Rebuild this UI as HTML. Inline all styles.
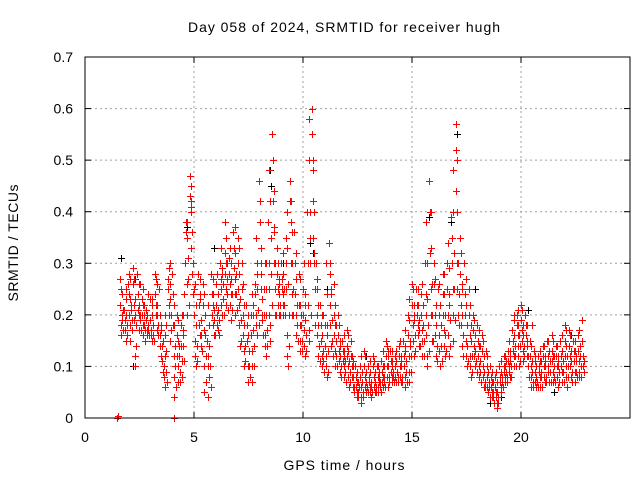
<!DOCTYPE html>
<html><head><meta charset="utf-8"><style>
html,body{margin:0;padding:0;background:#fff;}
svg{display:block;font-family:"Liberation Sans",sans-serif;font-size:14px;}
</style></head><body>
<svg id="chart" width="640" height="480" xmlns="http://www.w3.org/2000/svg">
<text x="344" y="32" text-anchor="middle" textLength="312" lengthAdjust="spacing">Day 058 of 2024, SRMTID for receiver hugh</text>
<text x="344" y="470" text-anchor="middle" textLength="121" lengthAdjust="spacing">GPS time / hours</text>
<text transform="translate(18,243) rotate(-90)" text-anchor="middle" textLength="117" lengthAdjust="spacing">SRMTID / TECUs</text>
<g id="grid"></g><g id="blackpts"></g><g id="redpts"></g><g id="axes"></g>
</svg>
<script>
const xTicks=[0,5,10,15,20];
const yTicks=[0,0.1,0.2,0.3,0.4,0.5,0.6,0.7];
const yTickLabels=["0","0.1","0.2","0.3","0.4","0.5","0.6","0.7"];
const redRows=[
[1.6,.27,.22,.18,.16,.2,.24],[1.8,.21,.19,.17,.23,.25,.15],[2.0,.24,.28,.2,.18,.15,.22],[2.2,.29,.26,.22,.19,.12,.1],
[2.4,.28,.24,.21,.17,.2,.26],[2.6,.23,.2,.18,.16,.25,.22],[2.8,.21,.19,.17,.16,.24],[3.0,.19,.17,.16,.15,.22,.18],
[3.2,.28,.24,.22,.2,.26,.17],[3.4,.25,.2,.16,.14,.12,.18],[3.6,.15,.1,.08,.06,.12,.18],[3.8,.27,.25,.22,.2,.3,.15],
[4.0,.28,.24,.18,.12,.08,.04],[4.2,.2,.16,.12,.1,.07,.14],[4.4,.18,.14,.11,.08,.16,.2],[4.6,.3,.36,.38,.26,.2],
[4.8,.47,.43,.4,.42,.33,.28],[5.0,.25,.2,.15,.12,.1,.18],[5.2,.28,.22,.18,.16,.24,.14],[5.4,.26,.22,.17,.1,.05,.2],
[5.6,.15,.12,.1,.04,.18,.08],[5.8,.28,.24,.2,.18,.22,.16],[6.0,.26,.22,.2,.18,.24,.17],[6.2,.3,.27,.25,.22,.2,.28],
[6.4,.38,.32,.28,.25,.22,.3],[6.6,.31,.28,.26,.22,.19,.24],[6.8,.36,.33,.29,.27,.24,.2],[7.0,.35,.3,.25,.22,.18,.14],
[7.2,.3,.25,.2,.16,.13,.1],[7.4,.22,.18,.15,.1,.07,.13],[7.6,.2,.16,.13,.1,.07,.22],[7.8,.26,.24,.2,.18,.16,.28],
[8.0,.46,.42,.38,.3,.25,.2],[8.2,.25,.2,.16,.14,.12,.3],[8.4,.38,.3,.25,.2,.18,.15],[8.6,.55,.5,.42,.36,.3,.2],
[8.8,.33,.28,.25,.22,.2,.26],[9.0,.3,.27,.25,.22,.2,.24],[9.2,.35,.3,.25,.16,.12,.1],[9.4,.46,.42,.38,.3,.24,.2],
[9.6,.36,.3,.24,.2,.16,.27],[9.8,.28,.22,.18,.15,.13,.2],[10.0,.25,.2,.17,.14,.12,.22],[10.2,.4,.3,.22,.17,.15,.35],
[10.4,.6,.55,.5,.42,.35,.3],[10.6,.3,.25,.2,.16,.12,.22],[10.8,.22,.18,.15,.12,.1,.2],[11.0,.18,.14,.12,.1,.08,.16],
[11.2,.34,.28,.22,.18,.14,.25],[11.4,.26,.2,.16,.13,.1,.18],[11.6,.2,.16,.13,.11,.09,.14],[11.8,.15,.13,.11,.1,.08,.12],
[12.0,.17,.14,.12,.1,.08,.06],[12.2,.15,.12,.1,.08,.06,.11],[12.4,.1,.08,.06,.05,.04,.07],[12.6,.1,.08,.06,.04,.03,.07],
[12.8,.13,.1,.08,.06,.05,.07],[13.0,.1,.08,.07,.06,.05,.04],[13.2,.12,.1,.08,.06,.05,.09],[13.4,.1,.08,.06,.05,.07,.09],
[13.6,.11,.09,.07,.06,.08,.1],[13.8,.15,.12,.1,.08,.06,.13],[14.0,.13,.11,.09,.08,.07,.1],[14.2,.12,.1,.08,.07,.11,.09],
[14.4,.14,.12,.1,.08,.07,.11],[14.6,.15,.12,.1,.08,.06,.13],[14.8,.2,.16,.12,.09,.07,.14],[15.0,.26,.22,.18,.15,.12,.2],
[15.2,.25,.22,.2,.18,.16,.14],[15.4,.24,.2,.17,.15,.12,.22],[15.6,.3,.24,.2,.16,.12,.1],[15.8,.46,.4,.32,.25,.2,.15],
[16.0,.3,.26,.2,.16,.12,.22],[16.2,.25,.2,.16,.13,.1,.22],[16.4,.28,.24,.2,.17,.14,.12],[16.6,.3,.25,.2,.16,.12,.22],
[16.8,.39,.35,.3,.25,.2,.15],[17.0,.57,.52,.44,.3,.25,.2],[17.2,.35,.28,.22,.18,.14,.25],[17.4,.3,.24,.2,.15,.12,.1],
[17.6,.25,.2,.16,.12,.1,.08],[17.8,.2,.17,.14,.12,.1,.16],[18.0,.18,.15,.12,.1,.08,.14],[18.2,.16,.13,.1,.08,.06,.12],
[18.4,.13,.1,.08,.06,.05,.09],[18.6,.1,.08,.06,.05,.04,.07],[18.8,.08,.06,.05,.04,.02,.03],[19.0,.1,.08,.07,.06,.05,.09],
[19.2,.12,.1,.09,.08,.07,.11],[19.4,.13,.11,.1,.09,.08,.12],[19.6,.17,.15,.13,.12,.1,.2],[19.8,.2,.18,.16,.14,.12,.1],
[20.0,.22,.19,.17,.15,.13,.11],[20.2,.2,.18,.16,.14,.12,.1],[20.4,.15,.12,.1,.08,.06,.18],[20.6,.13,.11,.09,.07,.06,.1],
[20.8,.12,.1,.09,.08,.06,.11],[21.0,.14,.12,.1,.08,.07,.11],[21.2,.15,.12,.1,.09,.07,.13],[21.4,.16,.13,.11,.09,.07,.12],
[21.6,.14,.12,.1,.08,.06,.11],[21.8,.15,.12,.1,.09,.07,.13],[22.0,.18,.15,.12,.1,.08,.06],[22.2,.17,.14,.12,.1,.08,.11],
[22.4,.15,.13,.11,.09,.07,.12],[22.6,.16,.13,.11,.09,.08,.14],[22.8,.19,.15,.12,.1,.09,.11]
];
const redRows2=[
[1.7,.25,.2,.19,.17,.21],[1.9,.23,.2,.18,.16,.26],[2.1,.27,.23,.21,.19,.17],[2.3,.27,.23,.2,.18,.14],
[2.5,.26,.22,.2,.19,.17],[2.7,.22,.2,.18,.17,.15],[2.9,.2,.18,.17,.16,.23],[3.1,.23,.2,.18,.16,.15],
[3.3,.27,.22,.2,.18,.16],[3.5,.2,.17,.14,.11,.09],[3.7,.2,.16,.13,.09,.07],[3.9,.29,.26,.23,.2,.17],
[4.1,.22,.18,.14,.1,.06],[4.3,.19,.15,.12,.09,.07],[4.5,.2,.17,.14,.11,.24],[4.7,.38,.35,.31,.27,.22],
[4.9,.45,.41,.36,.3,.24],[5.1,.26,.22,.18,.14,.11],[5.3,.27,.23,.19,.16,.13],[5.5,.24,.2,.16,.12,.07],
[5.7,.22,.18,.14,.1,.06],[5.9,.27,.24,.21,.19,.16],[6.1,.28,.24,.21,.19,.16],[6.3,.33,.29,.26,.23,.2],
[6.5,.35,.3,.27,.24,.21],[6.7,.33,.3,.27,.24,.21],[6.9,.37,.32,.28,.24,.21],[7.1,.33,.28,.23,.19,.15],
[7.3,.26,.22,.18,.14,.11],[7.5,.2,.16,.13,.1,.08],[7.7,.24,.2,.17,.14,.1],[7.9,.35,.3,.25,.21,.18],
[8.1,.33,.28,.23,.19,.16],[8.3,.3,.25,.2,.17,.14],[8.5,.48,.42,.35,.28,.22],[8.7,.44,.37,.3,.25,.2],
[8.9,.3,.27,.24,.22,.2],[9.1,.32,.28,.25,.22,.2],[9.3,.4,.33,.26,.2,.14],[9.5,.42,.36,.3,.25,.2],
[9.7,.32,.27,.22,.18,.15],[9.9,.27,.22,.18,.15,.13],[10.1,.3,.24,.19,.16,.13],[10.3,.58,.5,.4,.3,.2],
[10.5,.48,.4,.32,.25,.18],[10.7,.27,.22,.18,.14,.11],[10.9,.2,.16,.13,.11,.09],[11.1,.3,.24,.18,.13,.09],
[11.3,.3,.24,.19,.15,.12],[11.5,.22,.18,.15,.12,.1],[11.7,.18,.15,.12,.1,.08],[11.9,.16,.13,.11,.09,.07],
[12.1,.16,.13,.11,.09,.07],[12.3,.12,.1,.08,.06,.05],[12.5,.09,.07,.05,.04,.06],[12.7,.12,.09,.07,.05,.04],
[12.9,.12,.09,.07,.06,.05],[13.1,.11,.09,.07,.06,.05],[13.3,.11,.09,.07,.06,.05],[13.5,.1,.08,.07,.06,.05],
[13.7,.13,.1,.08,.07,.06],[13.9,.14,.12,.1,.08,.07],[14.1,.13,.11,.09,.08,.07],[14.3,.13,.11,.09,.08,.07],
[14.5,.15,.12,.1,.08,.07],[14.7,.17,.14,.11,.09,.07],[14.9,.23,.19,.15,.12,.09],[15.1,.25,.22,.19,.16,.13],
[15.3,.25,.22,.19,.17,.14],[15.5,.26,.22,.18,.15,.12],[15.7,.38,.3,.23,.18,.13],[15.9,.4,.33,.26,.2,.15],
[16.1,.27,.22,.18,.14,.11],[16.3,.26,.22,.18,.14,.11],[16.5,.28,.24,.2,.16,.13],[16.7,.34,.29,.24,.19,.14],
[16.9,.48,.4,.32,.25,.19],[17.1,.5,.4,.3,.24,.18],[17.3,.32,.26,.2,.16,.12],[17.5,.27,.22,.18,.14,.11],
[17.7,.22,.18,.15,.12,.09],[17.9,.19,.16,.13,.11,.09],[18.1,.17,.14,.11,.09,.07],[18.3,.15,.12,.09,.07,.06],
[18.5,.12,.09,.07,.06,.04],[18.7,.09,.07,.05,.04,.03],[18.9,.09,.07,.05,.04,.03],[19.1,.11,.09,.08,.07,.06],
[19.3,.12,.1,.09,.08,.07],[19.5,.15,.13,.11,.1,.08],[19.7,.19,.16,.14,.12,.1],[19.9,.21,.18,.16,.14,.11],
[20.1,.21,.18,.16,.14,.12],[20.3,.18,.15,.12,.1,.08],[20.5,.14,.11,.09,.07,.06],[20.7,.12,.1,.08,.07,.06],
[20.9,.13,.11,.09,.08,.06],[21.1,.14,.12,.1,.08,.07],[21.3,.15,.13,.11,.09,.07],[21.5,.15,.12,.1,.08,.07],
[21.7,.14,.12,.1,.09,.07],[21.9,.16,.13,.11,.09,.07],[22.1,.17,.14,.12,.1,.08],[22.3,.16,.13,.11,.09,.07],
[22.5,.15,.13,.11,.09,.08],[22.7,.17,.14,.12,.1,.08]
];
const zeroTimes=[1.48,1.5,4.1];
const zeroVals=[0,0.003,0];
const blackTimes=[1.65,2.2,2.3,4.7,5.9,6.9,8.5,8.55,9.1,10.3,10.45,11.1,12.9,15.8,16.8,17.05,17.9,18.6,19.1,20.3,21.5,22.3];
const blackVals=[.31,.1,.27,.37,.33,.32,.48,.45,.3,.34,.32,.25,.12,.39,.38,.55,.25,.03,.04,.21,.05,.16];

const X0=85,X1=630,Y0=418,Y1=57,XMAX=25,YMAX=0.7;
const xs=t=>X0+t/XMAX*(X1-X0);
const ys=v=>Y0-v/YMAX*(Y0-Y1);
const NS="http://www.w3.org/2000/svg";
function mk(tag,parent,attrs){const e=document.createElementNS(NS,tag);for(const k in attrs)e.setAttribute(k,attrs[k]);parent.appendChild(e);return e;}
const grid=document.getElementById('grid'),axes=document.getElementById('axes');
const rp=document.getElementById('redpts'),bp=document.getElementById('blackpts');
xTicks.forEach(t=>{
  const x=xs(t);
  if(t>0){const g=mk('line',grid,{x1:x,y1:Y0,x2:x,y2:Y1,stroke:'#a0a0a0','stroke-dasharray':'2,3'});
  
  }
  mk('line',axes,{x1:x,y1:Y0,x2:x,y2:Y0-6,stroke:'#000'});
  mk('line',axes,{x1:x,y1:Y1,x2:x,y2:Y1+6,stroke:'#000'});
  const l=mk('text',axes,{x:x,y:Y0+24,'text-anchor':'middle'});l.textContent=t;
  
  
});
yTicks.forEach((v,i)=>{
  const y=ys(v);
  if(v>0&&v<YMAX){const g=mk('line',grid,{x1:X0,y1:y,x2:X1,y2:y,stroke:'#a0a0a0','stroke-dasharray':'2,3'});
  
  }
  mk('line',axes,{x1:X0,y1:y,x2:X0+6,y2:y,stroke:'#000'});
  mk('line',axes,{x1:X1,y1:y,x2:X1-6,y2:y,stroke:'#000'});
  const l=mk('text',axes,{x:X0-12,y:y+5,'text-anchor':'end'});l.textContent=yTickLabels[i];
  
  
});
const frame=mk('rect',axes,{x:X0,y:Y1,width:X1-X0,height:Y0-Y1,fill:'none',stroke:'#000'});


function plus(parent,t,v,col){
  const x=Math.round(xs(t))+0.5,y=Math.round(ys(v))+0.5;
  const p=mk('path',parent,{d:`M${x-3.5},${y}H${x+3.5}M${x},${y-3.5}V${y+3.5}`,stroke:col,'stroke-width':1,fill:'none'});
  
  
}
blackTimes.forEach((t,i)=>plus(bp,t,blackVals[i],'#000'));
redRows.forEach(r=>{for(let i=1;i<r.length;i++)plus(rp,r[0]+(i-1)*0.02,r[i],'#ff0000');});
redRows2.forEach(r=>{for(let i=1;i<r.length;i++)plus(rp,r[0]-0.04+(i-1)*0.025,r[i],'#ff0000');});
zeroTimes.forEach((t,i)=>plus(rp,t,zeroVals[i],'#ff0000'));
</script>
</body></html>
